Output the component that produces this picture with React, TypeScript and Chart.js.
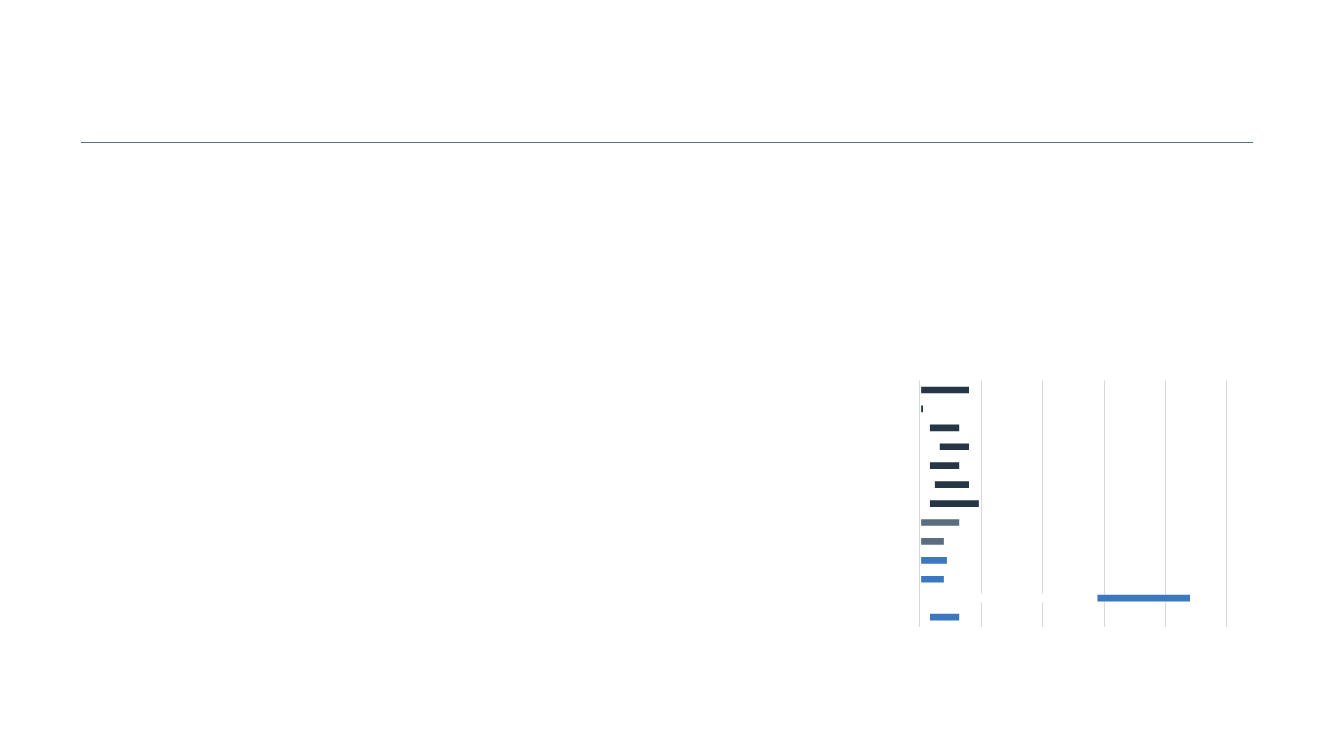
import React, { useEffect, useRef } from "react";
import { Chart, registerables } from "chart.js";

Chart.register(...registerables);

const categories = [
  "Task 1", "Task 2", "Task 3", "Task 4", "Task 5", "Task 6", "Task 7",
  "Task 8", "Task 9", "Task 10", "Task 11", "Task 12", "Task 13",
];
const starts = [0, 0, 1.5, 3.1, 1.5, 2.3, 1.5, 0, 0, 0, 0, 28.8, 1.5];
const ends = [8.1, 0.6, 6.5, 8.1, 6.5, 8.1, 9.7, 6.5, 4.0, 4.5, 4.0, 44.1, 6.5];
const barColors = [
  "#263646", "#263646", "#263646", "#263646", "#263646", "#263646", "#263646",
  "#5b6e7f", "#5b6e7f",
  "#3b78c1", "#3b78c1", "#3b78c1", "#3b78c1",
];
const axisMin = 0;
const axisMax = 50;
const axisStep = 10;

export default function App() {
  const ref = useRef<HTMLCanvasElement | null>(null);

  useEffect(() => {
    if (!ref.current) return;
    const durations = ends.map((e, i) => e - starts[i]);
    const chart = new Chart(ref.current, {
      type: "bar",
      data: {
        labels: categories,
        datasets: [
          {
            label: "Start",
            data: starts,
            backgroundColor: "#ffffff",
            borderWidth: 0,
            barThickness: 8,
          },
          {
            label: "Duration",
            data: durations,
            backgroundColor: barColors,
            borderColor: "rgba(255,255,255,0.45)",
            borderWidth: 1,
            borderSkipped: false,
            barThickness: 8,
          },
        ],
      },
      options: {
        indexAxis: "y",
        animation: false,
        responsive: false,
        maintainAspectRatio: false,
        layout: { padding: { left: 0.98, right: 0.12, top: 0.5, bottom: 0.4 } },
        plugins: {
          legend: { display: false },
          tooltip: { enabled: false },
          title: { display: false },
        },
        scales: {
          x: {
            stacked: true,
            min: axisMin,
            max: axisMax,
            ticks: { display: false, stepSize: axisStep },
            grid: { color: "#d9d9d9", lineWidth: 1, drawTicks: false },
            border: { display: false },
          },
          y: {
            stacked: true,
            ticks: { display: false },
            grid: { display: false, drawTicks: false },
            border: { display: false },
          },
        },
      },
    });
    return () => chart.destroy();
  }, []);

  return (
    <div
      style={{
        position: "absolute",
        left: 0,
        top: 0,
        width: 1333,
        height: 750,
        background: "#ffffff",
        overflow: "hidden",
      }}
    >
      <div
        style={{
          position: "absolute",
          left: 81,
          top: 142,
          width: 1172,
          height: 0,
          borderTop: "1px solid #5b6f82",
        }}
      />
      <canvas
        ref={ref}
        width={308}
        height={247}
        style={{ position: "absolute", left: 919, top: 380, width: 308, height: 247 }}
      />
    </div>
  );
}
